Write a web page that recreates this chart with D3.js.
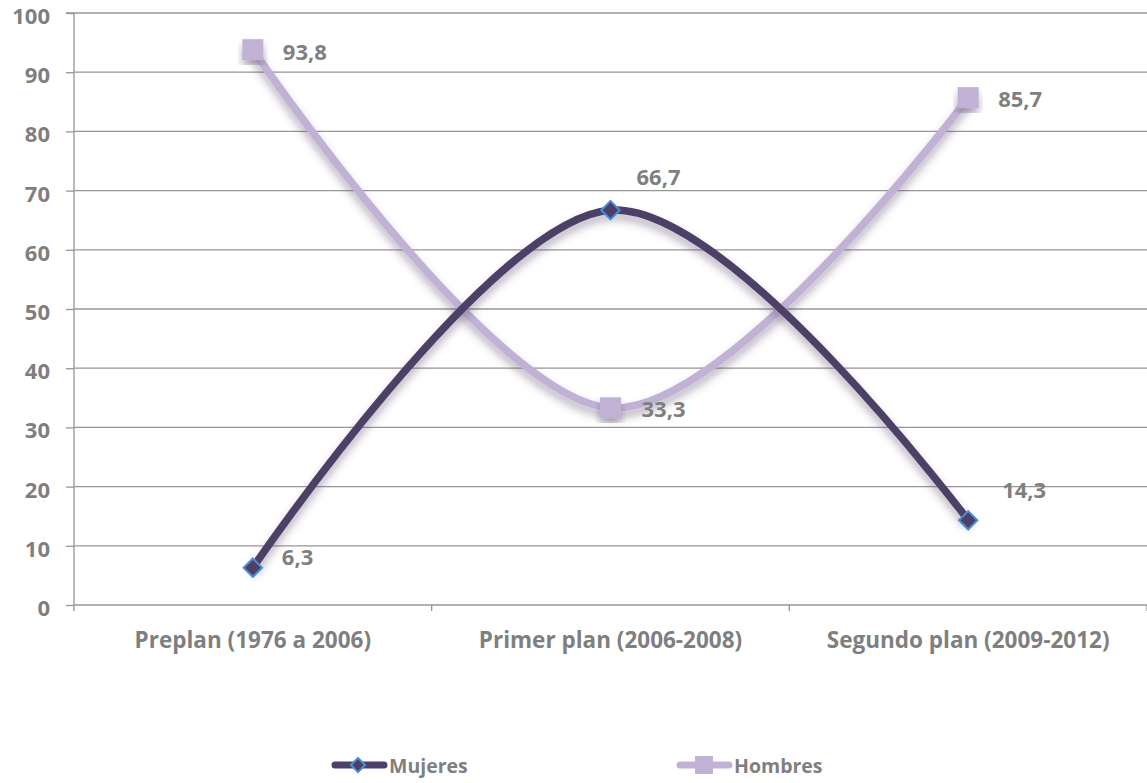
<!DOCTYPE html>
<html><head><meta charset="utf-8">
<script src="https://cdn.jsdelivr.net/npm/d3@7"></script>
<style>body{margin:0;background:#fff}svg{display:block}text{font-family:"Open Sans",Lato,sans-serif;font-weight:700;fill:#7f7f7f}</style>
</head><body>
<svg id="c" width="1147" height="783"></svg>
<script>
const categories = ["Preplan (1976 a 2006)", "Primer plan (2006-2008)", "Segundo plan (2009-2012)"];
const mujeres = [6.3, 66.7, 14.3];
const hombres = [93.8, 33.3, 85.7];
const yTicks = [0,10,20,30,40,50,60,70,80,90,100];
const seriesNames = ["Mujeres", "Hombres"];

const svg = d3.select("#c");
const L = 74, R = 1147, T = 13, B = 605;
const x = d3.scaleBand().domain(categories).range([L, R]);
const y = d3.scaleLinear().domain([0,100]).range([B, T]);
const cx = c => x(c) + x.bandwidth()/2;

const defs = svg.append("defs");
const f = defs.append("filter").attr("id","sh").attr("x","-20%").attr("y","-20%").attr("width","140%").attr("height","140%");
f.append("feDropShadow").attr("dx",0).attr("dy",6).attr("stdDeviation",4).attr("flood-color","#5a4a70").attr("flood-opacity",0.45);

// gridlines
svg.append("g").selectAll("line").data(yTicks.slice(1)).join("line")
  .attr("x1",L).attr("x2",R).attr("y1",d=>y(d)).attr("y2",d=>y(d))
  .attr("stroke","#969696").attr("stroke-width",1.3);

// y axis
const ya = svg.append("g").attr("transform",`translate(${L},0)`)
  .call(d3.axisLeft(y).tickValues(yTicks).tickSize(8).tickPadding(16).tickFormat(d3.format("d")));
ya.attr("font-size",null).attr("font-family",null);
ya.select(".domain").attr("stroke","#969696").attr("stroke-width",1.3).attr("d",`M-8,${T}H0V${B}`);
ya.selectAll(".tick line").attr("stroke","#969696").attr("stroke-width",1.3);
ya.selectAll(".tick text").style("font-size","22px").attr("fill","#7f7f7f").attr("dy","0.48em");

// x axis
const xa = svg.append("g").attr("transform",`translate(0,${B})`);
xa.append("line").attr("x1",L).attr("x2",R).attr("stroke","#969696").attr("stroke-width",1.3);
const bounds = categories.map(c=>x(c)).concat([R]);
xa.selectAll("line.t").data(bounds).join("line").attr("class","t")
  .attr("x1",d=>d).attr("x2",d=>d).attr("y1",0).attr("y2",6).attr("stroke","#969696").attr("stroke-width",1.3);
xa.selectAll("text").data(categories).join("text")
  .attr("x",d=>cx(d)).attr("y",43).attr("text-anchor","middle").style("font-size","22.5px").text(d=>d);

const line = d3.line().x((d,i)=>cx(categories[i])).y(d=>y(d)).curve(d3.curveCardinal.tension(0));
const cols = {m:"#4e3f66", h:"#c0b1d5"};

svg.append("path").datum(hombres).attr("d",line).attr("fill","none").attr("stroke",cols.h).attr("stroke-width",7.5).attr("filter","url(#sh)");
svg.append("path").datum(mujeres).attr("d",line).attr("fill","none").attr("stroke",cols.m).attr("stroke-width",7.5).attr("filter","url(#sh)");

// markers
svg.append("g").selectAll("rect").data(hombres).join("rect")
  .attr("x",(d,i)=>cx(categories[i])-10.5).attr("y",d=>y(d)-10.5).attr("width",21).attr("height",21)
  .attr("fill",cols.h).attr("filter","url(#sh)");
svg.append("g").selectAll("rect").data(mujeres).join("rect")
  .attr("x",-6.5).attr("y",-6.5).attr("width",13).attr("height",13)
  .attr("transform",(d,i)=>`translate(${cx(categories[i])},${y(d)}) rotate(45)`)
  .attr("fill",cols.m).attr("stroke","#4a8fd4").attr("stroke-width",2);

// labels
const fmt = v => d3.format(".1f")(v).replace(".",",");
const mOff = [[29,-3],[26,-25],[34,-22]];
const hOff = [[30,10],[31,9],[30,9]];
svg.append("g").selectAll("text").data(mujeres).join("text")
  .attr("x",(d,i)=>cx(categories[i])+mOff[i][0]).attr("y",(d,i)=>y(d)+mOff[i][1])
  .style("font-size","22px").text(fmt);
svg.append("g").selectAll("text").data(hombres).join("text")
  .attr("x",(d,i)=>cx(categories[i])+hOff[i][0]).attr("y",(d,i)=>y(d)+hOff[i][1])
  .style("font-size","22px").text(fmt);

// legend
const lg = svg.append("g");
const leg = [{n:seriesNames[0],x:333,c:cols.m,t:"d"},{n:seriesNames[1],x:678,c:cols.h,t:"s"}];
const ly = 765;
leg.forEach(l=>{
  lg.append("line").attr("x1",l.x+2).attr("x2",l.x+51).attr("y1",ly).attr("y2",ly).attr("stroke",l.c).attr("stroke-width",7).attr("stroke-linecap","round");
  if(l.t==="d") lg.append("rect").attr("x",l.x+25-5).attr("y",ly-5).attr("width",10).attr("height",10)
    .attr("transform",`rotate(45,${l.x+25},${ly})`).attr("fill",l.c).attr("stroke","#4a8fd4").attr("stroke-width",2);
  else lg.append("rect").attr("x",l.x+26-9).attr("y",ly-9).attr("width",18).attr("height",18).attr("fill",l.c);
  lg.append("text").attr("x",l.x+56).attr("y",ly+8).style("font-size","19.5px").text(l.n);
});
</script>
</body></html>
